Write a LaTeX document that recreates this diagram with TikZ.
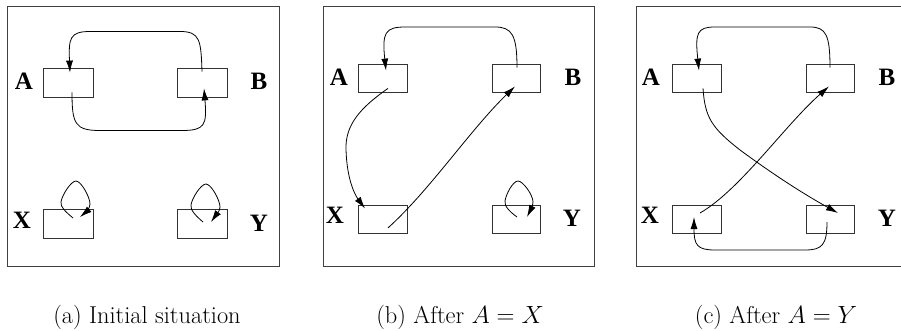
\documentclass[tikz,border=0pt]{standalone}
\usepackage{fontspec}
\newfontfamily\lblfont{Liberation Serif}
\usetikzlibrary{arrows.meta}
\begin{document}
\begin{tikzpicture}[x=1pt,y=-1pt,
  frame/.style={draw=black!75,line width=0.9pt},
  cell/.style={draw=black!80,line width=0.8pt,minimum width=50pt,minimum height=29pt,inner sep=0pt},
  cellb/.style={cell,minimum width=48.5pt,minimum height=28pt},
  lbl/.style={font=\lblfont\bfseries\fontsize{25}{28}\selectfont,inner sep=0pt},
  captext/.style={font=\fontsize{24.4}{29}\selectfont,anchor=base,inner sep=0pt},
  ptr/.style={line width=0.8pt,-{Latex[length=12pt,width=7pt]}}]
\useasboundingbox (0,0) rectangle (901,331);
% ---------- panel (a)
\draw[frame] (7,6) rectangle (279,266);
\node[cell] (aA) at (68,82.5) {};
\node[cell] (aB) at (202.5,82.5) {};
\node[cell] (aX) at (68,223.5) {};
\node[cell] (aY) at (202.5,223.5) {};
\node[lbl] (aAl) at (24,81) {A};
\node[lbl] (aBl) at (259,81) {B};
\node[lbl] (aXl) at (22,220) {X};
\node[lbl] (aYl) at (259,223) {Y};
\coordinate (aBs) at ([shift={(-0.5,4)}]aB.north);
\coordinate (aAt) at ([shift={(2,5)}]aA.north);
\coordinate (aAs) at ([shift={(4,-5)}]aA.south);
\coordinate (aBt) at ([shift={(1.5,-9)}]aB.south);
\coordinate (aXs) at ([shift={(5,-5.5)}]aX.center);
\coordinate (aXt) at ([shift={(12,-6.5)}]aX.center);
\coordinate (aYs) at ([shift={(0.5,-1.5)}]aY.center);
\coordinate (aYt) at ([shift={(8.5,-1.5)}]aY.center);
\draw[ptr] (aBs) .. controls (201,40) and (200,31.5) .. (180,31.5) -- (90,31.5) .. controls (70,31.5) and (68.5,38) .. (aAt);
\draw[ptr] (aAs) .. controls (72,124) and (75,130.5) .. (100,130.5) -- (182,130.5) .. controls (205,130.5) and (207,125) .. (aBt);
\draw[ptr] (aXs) .. controls (66,212) and (60,207) .. (61,202) .. controls (62,195) and (71,181) .. (76,181) .. controls (81,181) and (90,197) .. (90,204) .. controls (90,208) and (86,212) .. (aXt);
\draw[ptr] (aYs) .. controls (196,216) and (190,210) .. (191,205) .. controls (192,198) and (201,184) .. (206,184) .. controls (211,184) and (220,200) .. (220,207) .. controls (220,211) and (216,215) .. (aYt);
\node[captext] (capa) at (147,323) {(a) Initial situation};
% ---------- panel (b)
\draw[frame] (323,6) rectangle (594,266);
\node[cellb] (bA) at (383,78) {};
\node[cellb] (bB) at (516.5,78) {};
\node[cellb] (bX) at (383,219.5) {};
\node[cellb] (bY) at (516.5,219.5) {};
\node[lbl] (bAl) at (339,77) {A};
\node[lbl] (bBl) at (573,77) {B};
\node[lbl] (bXl) at (335,215) {X};
\node[lbl] (bYl) at (572,218) {Y};
\coordinate (bBs) at ([shift={(0.5,4)}]bB.north);
\coordinate (bAt) at ([shift={(3,7)}]bA.north);
\coordinate (bAs) at ([shift={(5,-4)}]bA.south);
\coordinate (bXt) at ([shift={(-18,-11)}]bX.center);
\coordinate (bXs) at ([shift={(5,-6)}]bX.south);
\coordinate (bBt) at ([shift={(-1.5,-6)}]bB.south);
\coordinate (bYs) at ([shift={(0.5,-2.5)}]bY.center);
\coordinate (bYt) at ([shift={(10.5,-2.5)}]bY.center);
\draw[ptr] (bBs) .. controls (517,35) and (512,27) .. (495,27) -- (405,27) .. controls (385,27) and (382,33) .. (bAt);
\draw[ptr] (bAs) .. controls (360,108) and (345,125) .. (346,150) .. controls (347,180) and (355,195) .. (bXt);
\draw[ptr] (bXs) .. controls (430,190) and (470,130) .. (bBt);
\draw[ptr] (bYs) .. controls (510,212) and (504,206) .. (505,201) .. controls (506,194) and (513,181) .. (518,181) .. controls (523,181) and (533,195) .. (533,202) .. controls (533,206) and (530,211) .. (bYt);
\node[captext] (capb) at (460,323) {(b) After $A=X$};
% ---------- panel (c)
\draw[frame] (903,6) -- (636,6) -- (636,266) -- (903,266);
\node[cellb] (cA) at (697,78) {};
\node[cellb] (cB) at (830.5,78) {};
\node[cellb] (cX) at (697,219.5) {};
\node[cellb] (cY) at (830.5,219.5) {};
\node[lbl] (cAl) at (651,77) {A};
\node[lbl] (cBl) at (887,77) {B};
\node[lbl] (cXl) at (650,215) {X};
\node[lbl] (cYl) at (887,218) {Y};
\coordinate (cBs) at ([shift={(-0.5,4)}]cB.north);
\coordinate (cAt) at ([shift={(2,7)}]cA.north);
\coordinate (cAs) at ([shift={(6,-4)}]cA.south);
\coordinate (cYt) at ([shift={(7.5,-6.5)}]cY.center);
\coordinate (cXs) at ([shift={(3,-6.5)}]cX.center);
\coordinate (cBt) at ([shift={(-1.5,-6)}]cB.south);
\coordinate (cYs) at ([shift={(-3.5,2.5)}]cY.center);
\coordinate (cXt) at ([shift={(-3,-2.5)}]cX.center);
\draw[ptr] (cBs) .. controls (830,35) and (826,27) .. (810,27) -- (715,27) .. controls (697,27) and (695,33) .. (cAt);
\draw[ptr] (cAs) .. controls (705,118) and (712,128) .. (740,150) .. controls (770,172) and (800,192) .. (cYt);
\draw[ptr] (cXs) .. controls (740,190) and (785,125) .. (cBt);
\draw[ptr] (cYs) .. controls (827,245) and (822,250) .. (805,250) -- (715,250) .. controls (697,250) and (694,245) .. (cXt);
\node[captext] (capc) at (776,323) {(c) After $A=Y$};
\end{tikzpicture}
\end{document}
